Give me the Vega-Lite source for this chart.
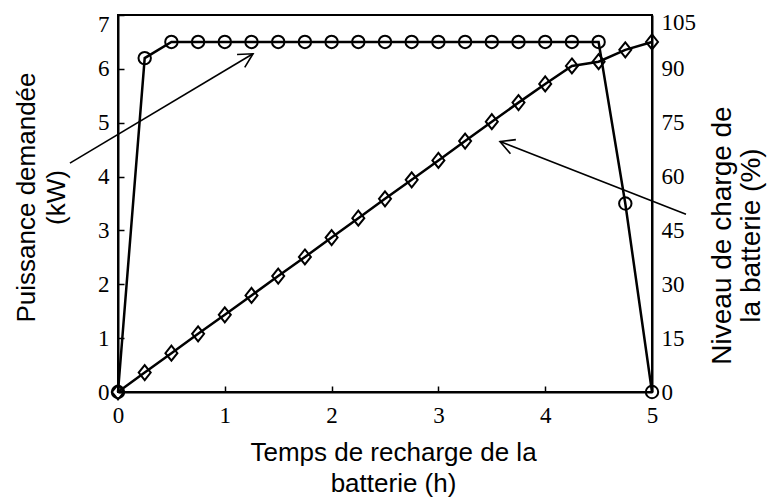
{
  "$schema": "https://vega.github.io/schema/vega-lite/v6.json",
  "width": 534,
  "height": 377,
  "autosize": {"type": "none"},
  "padding": {"left": 118, "top": 15, "right": 117, "bottom": 107},
  "background": "white",
  "config": {
    "view": {"stroke": "black", "strokeWidth": 2},
    "axis": {
      "grid": false,
      "domainColor": "black",
      "domainWidth": 2,
      "tickColor": "black",
      "tickWidth": 1.5,
      "labelFont": "Liberation Serif",
      "labelFontSize": 23,
      "labelColor": "black",
      "labelFlush": false,
      "labelOverlap": false,
      "format": "d",
      "titleFont": "Liberation Sans",
      "titleFontSize": 26,
      "titleFontWeight": "normal",
      "titleColor": "black"
    }
  },
  "datasets": {
    "power": [
      {"t": 0, "p": 0}, {"t": 0.25, "p": 6.2}, {"t": 0.5, "p": 6.5}, {"t": 0.75, "p": 6.5},
      {"t": 1.0, "p": 6.5}, {"t": 1.25, "p": 6.5}, {"t": 1.5, "p": 6.5}, {"t": 1.75, "p": 6.5},
      {"t": 2.0, "p": 6.5}, {"t": 2.25, "p": 6.5}, {"t": 2.5, "p": 6.5}, {"t": 2.75, "p": 6.5},
      {"t": 3.0, "p": 6.5}, {"t": 3.25, "p": 6.5}, {"t": 3.5, "p": 6.5}, {"t": 3.75, "p": 6.5},
      {"t": 4.0, "p": 6.5}, {"t": 4.25, "p": 6.5}, {"t": 4.5, "p": 6.5}, {"t": 4.75, "p": 3.5},
      {"t": 5.0, "p": 0}
    ],
    "soc": [
      {"t": 0, "s": 0}, {"t": 0.25, "s": 5.4}, {"t": 0.5, "s": 10.8}, {"t": 0.75, "s": 16.2},
      {"t": 1.0, "s": 21.5}, {"t": 1.25, "s": 26.9}, {"t": 1.5, "s": 32.3}, {"t": 1.75, "s": 37.6},
      {"t": 2.0, "s": 43.0}, {"t": 2.25, "s": 48.4}, {"t": 2.5, "s": 53.8}, {"t": 2.75, "s": 59.1},
      {"t": 3.0, "s": 64.5}, {"t": 3.25, "s": 69.9}, {"t": 3.5, "s": 75.3}, {"t": 3.75, "s": 80.6},
      {"t": 4.0, "s": 85.8}, {"t": 4.25, "s": 90.8}, {"t": 4.5, "s": 92.0}, {"t": 4.75, "s": 95.3},
      {"t": 5.0, "s": 97.5}
    ],
    "arrows": [
      {"id": "a1", "t1": -0.45, "p1": 4.25, "t2": 1.264, "p2": 6.28},
      {"id": "a2", "t1": 5.318, "p1": 3.30, "t2": 3.577, "p2": 4.65}
    ]
  },
  "layer": [
    {
      "layer": [
        {
          "data": {"name": "power"},
          "mark": {"type": "line", "color": "black", "strokeWidth": 2.5},
          "encoding": {
            "x": {
              "field": "t", "type": "quantitative",
              "scale": {"domain": [0, 5], "nice": false},
              "axis": {
                "values": [0, 1, 2, 3, 4, 5],
                "tickSize": -6,
                "labelPadding": 18,
                "title": ["Temps de recharge de la", "batterie (h)"],
                "titleX": 275,
                "titleY": 68,
                "titleAlign": "center",
                "titleBaseline": "alphabetic",
                "titleLineHeight": 31
              }
            },
            "y": {
              "field": "p", "type": "quantitative",
              "scale": {"domain": [0, 7], "nice": false},
              "axis": {
                "values": [0, 1, 2, 3, 4, 5, 6, 7],
                "tickSize": -6,
                "labelPadding": 15,
                "labelOffset": {"condition": {"test": "datum.value == 7", "value": 9}, "value": 0},
                "title": ["Puissance demandée", "(kW)"],
                "titleAngle": -90,
                "titleX": -84,
                "titleY": 182,
                "titleAlign": "center",
                "titleBaseline": "alphabetic",
                "titleLineHeight": 30
              }
            }
          }
        },
        {
          "data": {"name": "power"},
          "mark": {"type": "point", "shape": "circle", "size": 154, "filled": false, "color": "black", "strokeWidth": 2, "opacity": 1},
          "encoding": {
            "x": {"field": "t", "type": "quantitative"},
            "y": {"field": "p", "type": "quantitative"}
          }
        },
        {
          "data": {"name": "arrows"},
          "mark": {"type": "rule", "color": "black", "strokeWidth": 1.6},
          "encoding": {
            "x": {"field": "t1", "type": "quantitative"},
            "y": {"field": "p1", "type": "quantitative"},
            "x2": {"field": "t2"},
            "y2": {"field": "p2"}
          }
        },
        {
          "data": {"name": "arrows"},
          "transform": [{"filter": "datum.id == 'a1'"}],
          "mark": {"type": "point", "shape": "M-0.47,0.88L0,0L0.47,0.88", "size": 1024, "filled": false, "color": "black", "strokeWidth": 1.6, "opacity": 1, "angle": 59.2},
          "encoding": {
            "x": {"field": "t2", "type": "quantitative"},
            "y": {"field": "p2", "type": "quantitative"}
          }
        },
        {
          "data": {"name": "arrows"},
          "transform": [{"filter": "datum.id == 'a2'"}],
          "mark": {"type": "point", "shape": "M-0.47,0.88L0,0L0.47,0.88", "size": 1024, "filled": false, "color": "black", "strokeWidth": 1.6, "opacity": 1, "angle": 291.2},
          "encoding": {
            "x": {"field": "t2", "type": "quantitative"},
            "y": {"field": "p2", "type": "quantitative"}
          }
        }
      ]
    },
    {
      "layer": [
        {
          "data": {"name": "soc"},
          "mark": {"type": "line", "color": "black", "strokeWidth": 2.5},
          "encoding": {
            "x": {"field": "t", "type": "quantitative"},
            "y": {
              "field": "s", "type": "quantitative",
              "scale": {"domain": [0, 105], "nice": false},
              "axis": {
                "orient": "right",
                "values": [0, 15, 30, 45, 60, 75, 90, 105],
                "ticks": false,
                "tickSize": 0,
                "labelPadding": 9,
                "labelOffset": {"condition": {"test": "datum.value == 105", "value": 7}, "value": 0},
                "title": ["Niveau de charge de", "la batterie (%)"],
                "titleFontSize": 28,
                "titleAngle": -90,
                "titleX": 78,
                "titleY": 220,
                "titleAlign": "center",
                "titleBaseline": "alphabetic",
                "titleLineHeight": 29
              }
            }
          }
        },
        {
          "data": {"name": "soc"},
          "mark": {"type": "point", "shape": "M0,-1.25L1,0L0,1.25L-1,0Z", "size": 144, "filled": false, "color": "black", "strokeWidth": 2, "opacity": 1},
          "encoding": {
            "x": {"field": "t", "type": "quantitative"},
            "y": {"field": "s", "type": "quantitative"}
          }
        }
      ]
    }
  ],
  "resolve": {"scale": {"y": "independent"}}
}
